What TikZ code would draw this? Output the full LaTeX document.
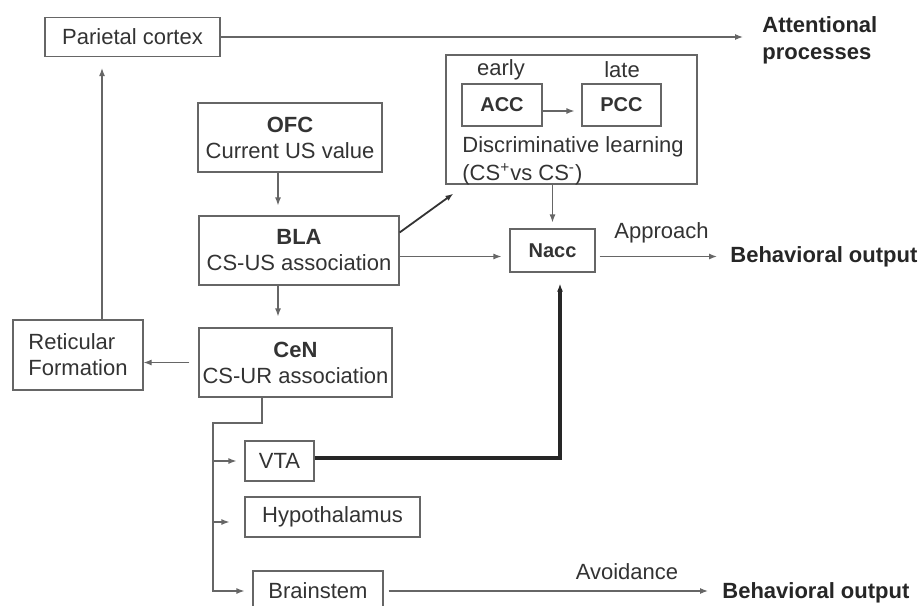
\documentclass[tikz,border=0pt]{standalone}
\usepackage{fontspec}
\setmainfont{Liberation Sans}
\usetikzlibrary{positioning,arrows.meta}

\tikzstyle{region}=[draw=black!60, line width=0.6pt, inner sep=0pt, align=center, text=black!80]
\tikzstyle{lbl}=[inner sep=0pt, text=black!80]
\tikzstyle{outp}=[inner sep=0pt, text=black!85, font=\fontsize{11}{13.5}\selectfont\bfseries, align=left]
\tikzstyle{line}=[-{Latex[length=4pt,width=3pt]}, draw=black!60, line width=0.6pt]

\begin{document}
\begin{tikzpicture}[x=0.5pt, y=-0.5pt, font=\fontsize{11}{13}\selectfont]
    \clip (0,0) rectangle (919,605);
    \node [region, minimum width=87.5pt, minimum height=19.5pt] (parietal) at (132.5,37) {Parietal cortex};
    \node [outp, anchor=west] (attn) at (762,40) {Attentional\\processes};
    \node [region, minimum width=125.5pt, minimum height=64.5pt] (disc) at (571.5,119.5) {};
    \node [region, font=\bfseries, minimum width=40pt, minimum height=21pt] (acc) at (502,105) {ACC};
    \node [region, font=\bfseries, minimum width=39.5pt, minimum height=21pt] (pcc) at (621.5,105) {PCC};
    \node [lbl] (early) at (501,70) {early};
    \node [lbl] (late) at (622,70) {late};
    \node [lbl, anchor=west] (discl) at (462,147) {Discriminative learning};
    \node [lbl, anchor=west] (csvs) at (462,174) {(CS\textsuperscript{+}vs CS\textsuperscript{-})};
    \node [region, minimum width=92pt, minimum height=34.5pt] (ofc) at (290,137.5) {\textbf{OFC}\\Current US value};
    \node [region, minimum width=100pt, minimum height=34.5pt] (bla) at (299,250.5) {\textbf{BLA}\\CS-US association};
    \node [region, font=\bfseries, minimum width=42.5pt, minimum height=21.5pt] (nacc) at (552.5,250.5) {Nacc};
    \node [lbl] (appr) at (661.5,233) {Approach};
    \node [outp, anchor=west] (out1) at (730,257) {Behavioral output};
    \node [region, minimum width=96.5pt, minimum height=34.5pt] (cen) at (295.5,362.5) {\textbf{CeN}\\CS-UR association};
    \node [region, align=left, minimum width=65pt, minimum height=35pt] (ret) at (78,355) {Reticular\\Formation};
    \node [region, minimum width=34.5pt, minimum height=20pt] (vta) at (279.5,461) {VTA};
    \node [region, minimum width=87.5pt, minimum height=20pt] (hyp) at (332.5,517) {Hypothalamus};
    \node [region, minimum width=65pt, minimum height=20pt] (brain) at (318,591) {Brainstem};
    \node [lbl] (avoid) at (627,572) {Avoidance};
    \node [outp, anchor=west] (out2) at (722,593) {Behavioral output};
    \coordinate (bus) at (213,423);

    \draw [line, shorten >=9.5pt] (parietal.east) -- (parietal.east -| attn.west);
    \draw [line, shorten >=3.5pt] ([yshift=-3pt]acc.east) -- ([yshift=-3pt]pcc.west);
    \draw [line, shorten >=3pt] (disc.south -| nacc) -- (nacc.north);
    \draw [line, line width=0.9pt, draw=black!80] ([yshift=9pt]bla.east) -- ([xshift=4pt,yshift=-4.5pt]disc.south west);
    \draw [line, shorten >=4pt] ([yshift=-3pt]bla.east) -- ([yshift=-3pt]bla.east -| nacc.west);
    \draw [line, shorten <=2pt, shorten >=6.5pt] ([yshift=-3pt]nacc.east) -- ([yshift=-3pt]nacc.east -| out1.west);
    \draw [line, shorten >=5pt] ([xshift=-6pt]ofc.south) -- ([xshift=-6pt]ofc.south |- bla.north);
    \draw [line, shorten >=5.5pt] ([xshift=-10.5pt]bla.south) -- ([xshift=-10.5pt]bla.south |- cen.north);
    \draw [line, shorten <=4.5pt] (cen.west) -- (cen.west -| ret.east);
    \draw [line, shorten >=5.5pt] ([xshift=12pt]ret.north) -- ([xshift=12pt]ret.north |- parietal.south);
    \draw [line, line width=1.6pt, draw=black!85, shorten >=5.5pt] ([yshift=1.5pt]vta.east) -| ([xshift=3.75pt]nacc.south);
    \draw [line, shorten >=4pt] ([xshift=-16.75pt]cen.south) |- (bus) -- (bus |- brain.west) -- (brain.west);
    \draw [line, shorten >=4pt] (bus |- vta.west) -- (vta.west);
    \draw [line, shorten >=7.5pt] ([yshift=-2.5pt]bus |- hyp.west) -- ([yshift=-2.5pt]hyp.west);
    \draw [line, shorten <=2.5pt, shorten >=7pt] (brain.east) -- (brain.east -| out2.west);
\end{tikzpicture}
\end{document}
